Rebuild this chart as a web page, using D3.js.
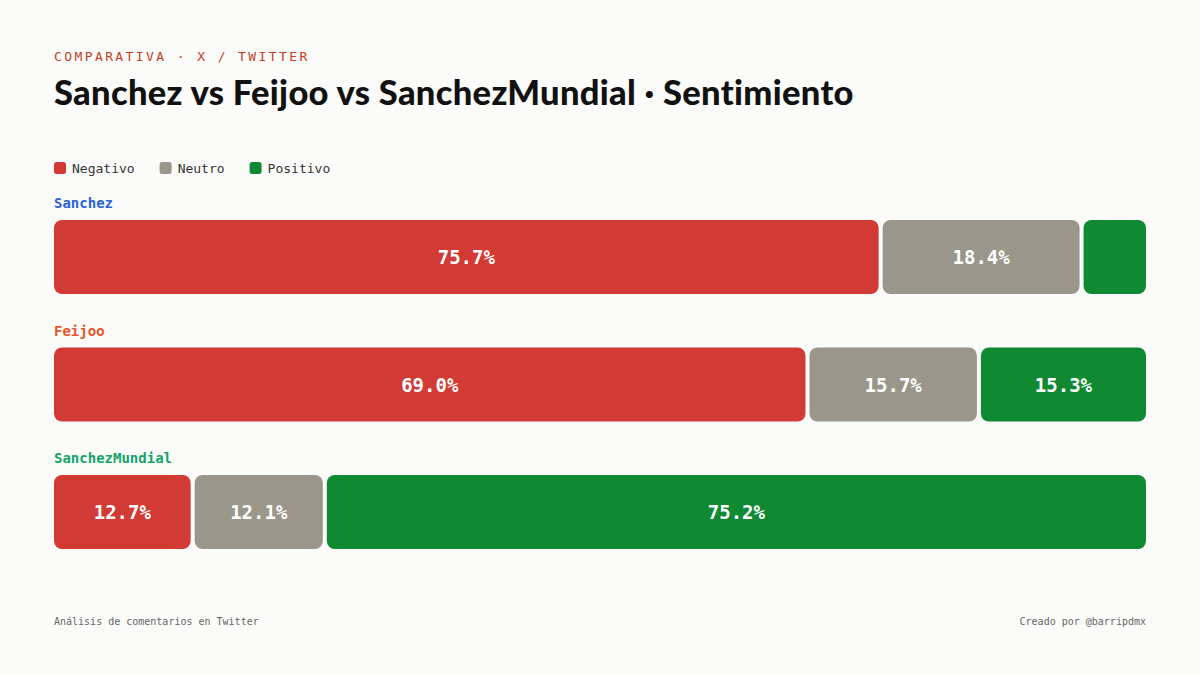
<!DOCTYPE html>
<html><head><meta charset="utf-8">
<script src="https://cdn.jsdelivr.net/npm/d3@7"></script>
<style>
body{margin:0;background:#fbfbf9;}
.mono{font-family:"DejaVu Sans Mono",monospace;}
</style></head><body>
<svg id="chart" width="1200" height="675"></svg>
<script>
const subjects = ["Sanchez", "Feijoo", "SanchezMundial"];
const subjectColors = ["#2563d6", "#e8562a", "#12a36a"];
const categories = ["Negativo", "Neutro", "Positivo"];
const catColors = ["#d13a35", "#9a968a", "#0f8a33"];
const negativo = [75.7, 69.0, 12.7];
const neutro = [18.4, 15.7, 12.1];
const positivo = [5.9, 15.3, 75.2];

const svg = d3.select("#chart");
const left = 54, right = 1146, gap = 4, barH = 74;
const x = d3.scaleLinear([0, 100], [left, right]);
const y = d3.scalePoint(subjects, [220, 475]);

svg.append("rect").attr("width", 1200).attr("height", 675).attr("fill", "#fbfbf9");
svg.append("text").attr("class", "mono").attr("x", 54).attr("y", 61)
  .attr("fill", "#c0401f").attr("font-size", 13).attr("letter-spacing", 2.4)
  .text("COMPARATIVA · X / TWITTER");
svg.append("text").attr("x", 54).attr("y", 105)
  .attr("font-family", "Lato, Inter, sans-serif").attr("font-weight", 900)
  .attr("font-size", 34.5).attr("letter-spacing", 0.3).attr("fill", "#111")
  .text("Sanchez vs Feijoo vs SanchezMundial · Sentimiento");

// legend
let lx = 54;
categories.forEach((c, i) => {
  svg.append("rect").attr("x", lx).attr("y", 162).attr("width", 12).attr("height", 12)
    .attr("rx", 2.5).attr("fill", catColors[i]);
  const t = svg.append("text").attr("class", "mono").attr("x", lx + 18).attr("y", 173)
    .attr("font-size", 13).attr("fill", "#333").text(c);
  lx += 18 + t.node().getComputedTextLength() + 25;
});

const rows = subjects.map((s, i) => [negativo[i], neutro[i], positivo[i]]);
rows.forEach((vals, i) => {
  const y0 = y(subjects[i]);
  svg.append("text").attr("class", "mono").attr("x", 54).attr("y", y0 - 12)
    .attr("font-size", 14).attr("font-weight", 600).attr("fill", subjectColors[i]).text(subjects[i]);
  let acc = 0;
  vals.forEach((v, j) => {
    const x0 = x(acc) + (j > 0 ? gap / 2 : 0);
    const x1 = x(acc + v) - (j < vals.length - 1 ? gap / 2 : 0);
    acc += v;
    svg.append("rect").attr("x", x0).attr("y", y0).attr("width", x1 - x0).attr("height", barH)
      .attr("rx", 8).attr("fill", catColors[j]);
    if (v >= 8) {
      svg.append("text").attr("class", "mono").attr("x", (x0 + x1) / 2).attr("y", y0 + barH / 2 + 7)
        .attr("text-anchor", "middle").attr("font-size", 19).attr("font-weight", "bold")
        .attr("fill", "#fff").text(v.toFixed(1) + "%");
    }
  });
});

svg.append("text").attr("class", "mono").attr("x", 54).attr("y", 625)
  .attr("font-size", 10).attr("fill", "#666").text("Análisis de comentarios en Twitter");
svg.append("text").attr("class", "mono").attr("x", 1146).attr("y", 625).attr("text-anchor", "end")
  .attr("font-size", 10).attr("fill", "#666").text("Creado por @barripdmx");
</script></body></html>
